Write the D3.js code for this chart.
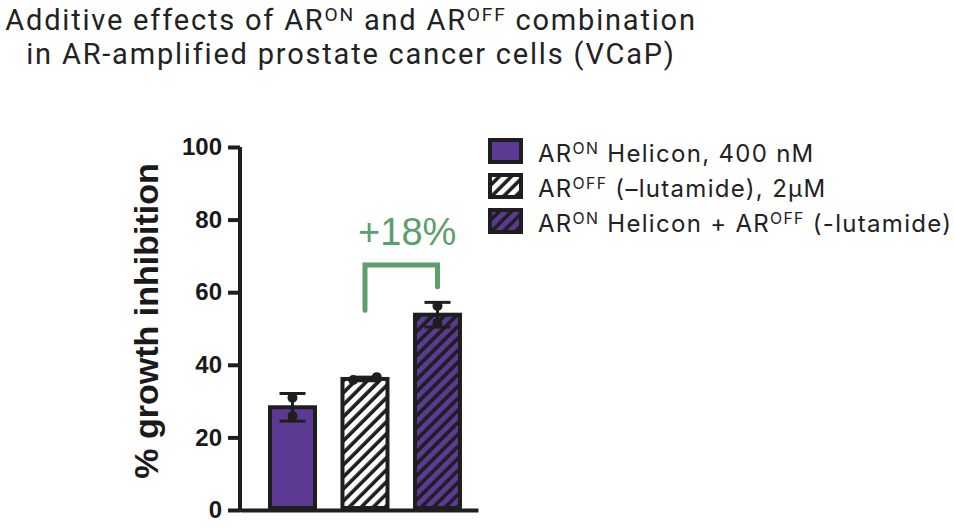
<!DOCTYPE html>
<html lang="en">
<head>
<meta charset="UTF-8">
<title>Additive effects of AR-ON and AR-OFF combination</title>
<script src="https://cdn.jsdelivr.net/npm/d3@7"></script>
<style>
  body { margin: 0; background: #fff; }
  .title { font-family: Roboto, sans-serif; font-size: 29px; letter-spacing: 1.8px; fill: #222; }
  .legend text { font-family: Inter, "Noto Sans", sans-serif; font-size: 24px; letter-spacing: 1.3px; fill: #222; }
  .yaxis text { font-family: "Liberation Sans", Arial, sans-serif; font-weight: bold; font-size: 24px; fill: #1a1a1a; }
  .ylabel { font-family: "Liberation Sans", Arial, sans-serif; font-weight: bold; font-size: 34px; fill: #1a1a1a; }
</style>
</head>
<body>
<script>
// data
const groups = ["Helicon", "lutamide", "combo"];
const means = [28.3, 36.1, 53.8];
const sems = [3.8, 0.5, 3.4];
const points = [[30.9, 25.9], [35.8, 36.6], [56.2, 51.6]];
const jitter = [[0, 0], [-0.24, 0.24], [0, 0]];   // in fractions of bar width
const fills = ["solid", "hatchWhite", "hatchPurple"];
const legendLabels = [
  [["AR"], ["ON", true], [" Helicon, 400 nM"]],
  [["AR"], ["OFF", true], [" (\u2013lutamide), 2\u00b5M"]],
  [["AR"], ["ON", true], [" Helicon + AR"], ["OFF", true], [" (-lutamide)"]]
];
const yTicks = [0, 20, 40, 60, 80, 100];
const bracket = {from: 1, to: 2, leftEnd: 55, rightEnd: 61.5, top: 67.5, label: "+18%", labelY: 73};
const titleLines = [
  [["Additive effects of AR"], ["ON", true], [" and AR"], ["OFF", true], [" combination"]],
  [["in AR-amplified prostate cancer cells (VCaP)"]]
];

const width = 954, height = 529;
const purple = "#5b3a94", dark = "#1e1e1e", green = "#5c9f6d";

const svg = d3.select("body").append("svg")
  .attr("width", width).attr("height", height);

// hatch patterns
const defs = svg.append("defs");
function hatch(id, bg) {
  const p = defs.append("pattern")
    .attr("id", id)
    .attr("patternUnits", "userSpaceOnUse")
    .attr("width", 8.5).attr("height", 8.5)
    .attr("patternTransform", "rotate(45)");
  p.append("rect").attr("width", 8.5).attr("height", 8.5).attr("fill", bg);
  p.append("line").attr("x1", 2).attr("x2", 2).attr("y1", 0).attr("y2", 8.5)
    .attr("stroke", dark).attr("stroke-width", 3.6);
}
hatch("hatchWhite", "#fff");
hatch("hatchPurple", purple);
const fillOf = f => f === "solid" ? purple : `url(#${f})`;

// rich text with superscripts; fs = font size in px of the parent text
function rich(sel, parts, fs) {
  const shift = fs * 0.32;
  parts.forEach(([t, sup], i) => {
    const prev = i > 0 && parts[i - 1][1];
    sel.append("tspan")
      .attr("dy", sup ? -shift : (prev ? shift : null))
      .style("font-size", sup ? (fs * 0.66) + "px" : null)
      .text(t);
  });
}

// title
titleLines.forEach((line, i) => {
  svg.append("text").attr("class", "title")
    .attr("x", 351).attr("y", 30 + i * 34)
    .attr("text-anchor", "middle")
    .call(rich, line, 29);
});

// scales
const y = d3.scaleLinear().domain([0, 100]).range([510, 147]);
const x = d3.scaleBand().domain(groups).range([240, 478])
  .paddingInner(0.324).paddingOuter(0.3035).align(0.636);

// y axis
const yAxis = svg.append("g").attr("class", "yaxis")
  .attr("transform", "translate(240,0)")
  .call(d3.axisLeft(y).tickValues(yTicks).tickSize(12).tickPadding(6).tickSizeOuter(0));
yAxis.select(".domain").attr("stroke", dark).attr("stroke-width", 4).attr("d", `M0,${y(0) + 2}V${y(100)}`);
yAxis.selectAll(".tick line").attr("stroke", dark).attr("stroke-width", 4);

// x axis
svg.append("g")
  .attr("transform", `translate(0,${y(0)})`)
  .call(d3.axisBottom(x).tickSize(0).tickFormat(""))
  .select(".domain").attr("stroke", dark).attr("stroke-width", 4);

// y label
svg.append("text").attr("class", "ylabel")
  .attr("transform", `translate(158,321) rotate(-90)`)
  .attr("text-anchor", "middle")
  .text("% growth inhibition");

// bars
svg.append("g").selectAll("rect")
  .data(groups)
  .join("rect")
  .attr("x", d => x(d) + 2)
  .attr("width", x.bandwidth() - 4)
  .attr("y", (d, i) => y(means[i]))
  .attr("height", (d, i) => y(0) - y(means[i]) - 2)
  .attr("fill", (d, i) => fillOf(fills[i]))
  .attr("stroke", dark)
  .attr("stroke-width", 4);

// error bars
const err = svg.append("g").attr("stroke", dark).attr("stroke-width", 3);
groups.forEach((g, i) => {
  const cx = x(g) + x.bandwidth() / 2;
  err.append("line").attr("x1", cx).attr("x2", cx)
    .attr("y1", y(means[i] + sems[i])).attr("y2", y(means[i] - sems[i]));
  [1, -1].forEach(s => {
    err.append("line").attr("x1", cx - 13).attr("x2", cx + 13)
      .attr("y1", y(means[i] + s * sems[i])).attr("y2", y(means[i] + s * sems[i]));
  });
});

// points
groups.forEach((g, i) => {
  svg.append("g").selectAll("circle")
    .data(points[i])
    .join("circle")
    .attr("cx", (v, j) => x(g) + x.bandwidth() / 2 + jitter[i][j] * x.bandwidth())
    .attr("cy", v => y(v))
    .attr("r", 5)
    .attr("fill", dark);
});

// bracket
const bx1 = x(groups[bracket.from]) + x.bandwidth() / 2;
const bx2 = x(groups[bracket.to]) + x.bandwidth() / 2;
svg.append("path")
  .attr("d", `M${bx1},${y(bracket.leftEnd)}V${y(bracket.top)}H${bx2}V${y(bracket.rightEnd)}`)
  .attr("fill", "none").attr("stroke", green).attr("stroke-width", 5)
  .attr("stroke-linecap", "round");
svg.append("text")
  .attr("x", (bx1 + bx2) / 2 + 6).attr("y", y(bracket.labelY))
  .attr("text-anchor", "middle")
  .attr("fill", green)
  .style("font-family", "'Liberation Sans', Arial, sans-serif")
  .style("font-size", "38px")
  .text(bracket.label);

// legend
const legend = svg.append("g").attr("class", "legend").attr("transform", "translate(488,138)");
const row = legend.selectAll("g")
  .data(legendLabels)
  .join("g")
  .attr("transform", (d, i) => `translate(0,${i * 35})`);
row.append("rect")
  .attr("x", 2).attr("y", 2)
  .attr("width", 31).attr("height", 22)
  .attr("fill", (d, i) => fillOf(fills[i]))
  .attr("stroke", dark).attr("stroke-width", 4);
row.append("text")
  .attr("x", 50).attr("y", 24)
  .each(function(d) { rich(d3.select(this), d, 24); });
</script>
</body>
</html>
